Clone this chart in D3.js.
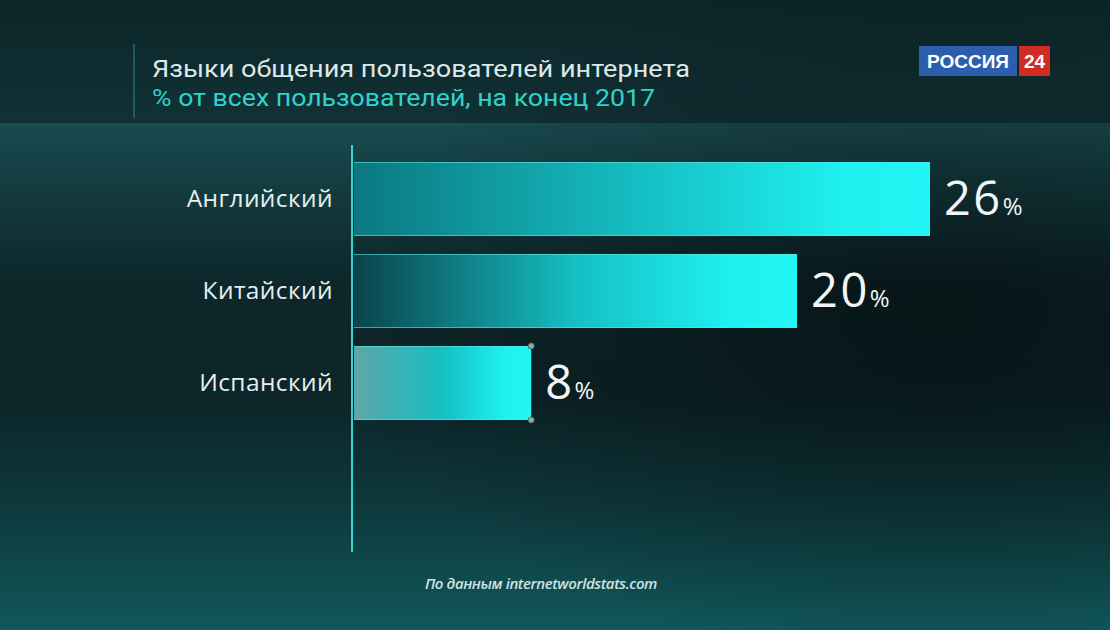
<!DOCTYPE html>
<html>
<head>
<meta charset="utf-8">
<script src="https://cdn.jsdelivr.net/npm/d3@7"></script>
<style>
	html, body { margin: 0; padding: 0; background: #0b1b1e; }
	svg { display: block; }
</style>
</head>
<body>
<svg class="lang-chart"></svg>
<script>
	var languages = ['Английский', 'Китайский', 'Испанский'],
		shares = [26, 20, 8],
		barLeftColours = ['#0b7880', '#0a434b', '#5fa6a8'],
		title = 'Языки общения пользователей интернета',
		subtitle = '% от всех пользователей, на конец 2017',
		source = 'По данным internetworldstats.com';

	var width = 1110,
		height = 630,
		svg, defs, x, y, rows;

	svg = d3.select('.lang-chart')
		.attr('width', width)
		.attr('height', height);

	defs = svg.append('defs');

	var addGradient = function (id, stops, vertical) {
		var g = defs.append('linearGradient')
			.attr('id', id)
			.attr('x1', 0).attr('y1', 0)
			.attr('x2', vertical ? 0 : 1)
			.attr('y2', vertical ? 1 : 0);
		stops.forEach(function (s) {
			g.append('stop')
				.attr('offset', s[0])
				.attr('stop-color', s[1])
				.attr('stop-opacity', s[2] === undefined ? 1 : s[2]);
		});
		return g;
	};

	/// Background: header band, lit strip, dark middle, teal floor
	addGradient('bg-head', [[0, '#0c2427'], [0.6, '#0f2d31'], [1, '#113135']], true);
	addGradient('bg-body', [[0, '#1a4b50'], [0.1, '#143f43'], [0.32, '#0d262a'], [0.55, '#0c2529'], [0.75, '#0e383c'], [1, '#105759']], true);

	var shade = defs.append('radialGradient')
		.attr('id', 'bg-shade')
		.attr('cx', 0.85).attr('cy', 0.5).attr('r', 0.55);
	shade.append('stop').attr('offset', 0).attr('stop-color', '#000').attr('stop-opacity', 0.45);
	shade.append('stop').attr('offset', 1).attr('stop-color', '#000').attr('stop-opacity', 0);

	svg.append('rect')
		.attr('width', width).attr('height', 123)
		.style('fill', 'url(#bg-head)');
	svg.append('rect')
		.attr('y', 123).attr('width', width).attr('height', height - 123)
		.style('fill', 'url(#bg-body)');
	svg.append('rect')
		.attr('y', 0).attr('width', width).attr('height', height)
		.style('fill', 'url(#bg-shade)');

	// Header
	svg.append('line')
		.attr('x1', 134).attr('x2', 134)
		.attr('y1', 44).attr('y2', 118)
		.style('stroke', '#1f5b5d')
		.style('stroke-width', 2);

	svg.append('text')
		.attr('x', 152).attr('y', 77)
		.attr('textLength', 538)
		.attr('lengthAdjust', 'spacingAndGlyphs')
		.style('font-family', 'Roboto, sans-serif')
		.style('font-size', '24px')
		.style('fill', '#dde8e8')
		.text(title);

	svg.append('text')
		.attr('x', 152).attr('y', 106)
		.attr('textLength', 503)
		.attr('lengthAdjust', 'spacingAndGlyphs')
		.style('font-family', 'Roboto, sans-serif')
		.style('font-size', '24px')
		.style('fill', '#2fd3cc')
		.text(subtitle);

	// Logo
	var logo = svg.append('g').attr('transform', 'translate(919 46)');
	logo.append('rect')
		.attr('width', 98).attr('height', 30)
		.style('fill', '#2b5fae');
	logo.append('text')
		.attr('x', 49).attr('y', 22)
		.attr('text-anchor', 'middle')
		.style('font-family', '"Liberation Sans", Arial, sans-serif')
		.style('font-weight', 'bold')
		.style('font-size', '19px')
		.style('fill', '#fff')
		.text('РОССИЯ');
	logo.append('rect')
		.attr('x', 100).attr('width', 31).attr('height', 30)
		.style('fill', '#d12b24');
	logo.append('text')
		.attr('x', 115.5).attr('y', 22)
		.attr('text-anchor', 'middle')
		.style('font-family', '"Liberation Sans", Arial, sans-serif')
		.style('font-weight', 'bold')
		.style('font-size', '19px')
		.style('fill', '#fff')
		.text('24');

	// Scales
	x = d3.scaleLinear()
		.domain([0, 26])
		.range([354, 930]);

	y = d3.scaleBand()
		.domain(languages)
		.range([162, 420])
		.paddingInner(0.196)
		.paddingOuter(0);

	languages.forEach(function (d, i) {
		addGradient('bar-' + i, [[0, barLeftColours[i]], [0.5, '#15bfc3'], [0.85, '#1ff0f0'], [1, '#22f5f5']]);
	});

	// Axis line
	svg.append('line')
		.attr('x1', x(0) - 2).attr('x2', x(0) - 2)
		.attr('y1', 145).attr('y2', 552)
		.style('stroke', '#33d6d2')
		.style('stroke-width', 2);

	rows = svg.append('g')
		.attr('class', 'bars')
		.selectAll('g')
		.data(languages).enter()
		.append('g');

	rows.append('rect')
		.attr('x', x(0))
		.attr('y', function (d) {return y(d);})
		.attr('width', function (d, i) {return x(shares[i]) - x(0);})
		.attr('height', y.bandwidth())
		.style('fill', function (d, i) {return 'url(#bar-' + i + ')';});

	// thin lit edges top and bottom
	rows.append('line')
		.attr('x1', x(0))
		.attr('x2', function (d, i) {return x(shares[i]);})
		.attr('y1', function (d) {return y(d) + 0.5;})
		.attr('y2', function (d) {return y(d) + 0.5;})
		.style('stroke', '#5fe6e4')
		.style('stroke-opacity', 0.6);
	rows.append('line')
		.attr('x1', x(0))
		.attr('x2', function (d, i) {return x(shares[i]);})
		.attr('y1', function (d) {return y(d) + y.bandwidth() - 0.5;})
		.attr('y2', function (d) {return y(d) + y.bandwidth() - 0.5;})
		.style('stroke', '#5fe6e4')
		.style('stroke-opacity', 0.6);

	// corner handles on the last bar
	rows.filter(function (d, i) {return i === languages.length - 1;})
		.selectAll('circle')
		.data(function (d) {return [y(d), y(d) + y.bandwidth()];})
		.enter()
		.append('circle')
			.attr('cx', x(shares[shares.length - 1]))
			.attr('cy', function (d) {return d;})
			.attr('r', 3)
			.style('fill', '#9aa8a8')
			.style('stroke', '#556464');

	// category labels
	rows.append('text')
		.attr('x', 333)
		.attr('y', function (d) {return y(d) + y.bandwidth() / 2 + 8;})
		.attr('text-anchor', 'end')
		.style('font-family', '"Open Sans", sans-serif')
		.style('font-size', '24.5px')
		.style('letter-spacing', '0.4px')
		.style('fill', '#e6eeee')
		.text(function (d) {return d;});

	// value labels
	var values = rows.append('text')
		.attr('x', function (d, i) {return x(shares[i]) + 14;})
		.attr('y', function (d) {return y(d) + y.bandwidth() / 2 + 16;})
		.style('font-family', '"Open Sans", sans-serif')
		.style('fill', '#f2f6f6');
	values.append('tspan')
		.style('font-size', '47px')
		.style('letter-spacing', '2.5px')
		.text(function (d, i) {return shares[i];});
	values.append('tspan')
		.attr('dx', 0)
		.style('font-size', '24px')
		.text('%');

	// Source
	svg.append('text')
		.attr('x', 541).attr('y', 589)
		.attr('text-anchor', 'middle')
		.style('font-family', '"Open Sans", sans-serif')
		.style('font-style', 'italic')
		.style('font-weight', 600)
		.style('font-size', '15px')
		.style('letter-spacing', '-0.4px')
		.style('fill', '#cfe2e2')
		.text(source);
</script>
</body>
</html>
